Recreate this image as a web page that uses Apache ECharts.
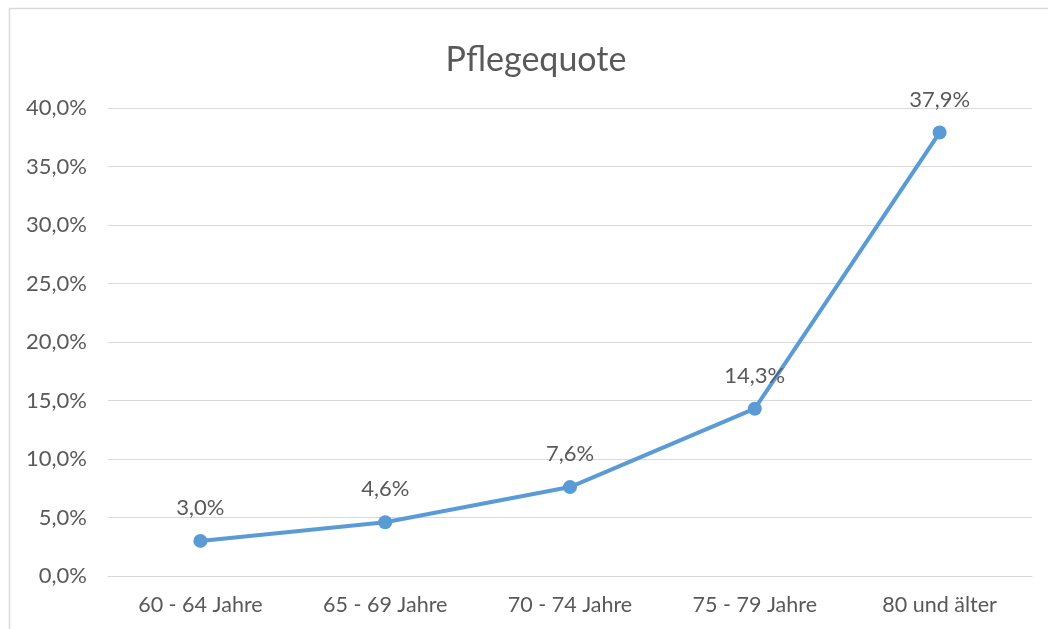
<!DOCTYPE html>
<html>
<head>
<meta charset="utf-8">
<script src="https://cdn.jsdelivr.net/npm/echarts@6/dist/echarts.min.js"></script>
<style>
  html, body { margin: 0; padding: 0; background: #fff; }
  #chart { width: 1048px; height: 629px; }
</style>
</head>
<body>
<div id="chart"></div>
<script>
const categories = ['60 - 64 Jahre', '65 - 69 Jahre', '70 - 74 Jahre', '75 - 79 Jahre', '80 und älter'];
const pflegequote = [3.0, 4.6, 7.6, 14.3, 37.9];

const fontFamily = 'Lato, "Open Sans", sans-serif';
const textColor = '#595959';

function pct(v) {
    return v.toFixed(1).replace('.', ',') + '%';
}

const option = {
    animation: false,
    title: {
        text: 'Pflegequote',
        left: 531,
        top: 38,
        textAlign: 'center',
        textStyle: {
            color: textColor,
            fontFamily: fontFamily,
            fontSize: 34,
            fontWeight: 'normal'
        }
    },
    graphic: [{
        type: 'rect',
        shape: { x: 9.5, y: 8.5, width: 1200, height: 800 },
        style: { fill: 'none', stroke: '#d9d9d9', lineWidth: 1.5 },
        silent: true
    }],
    grid: {
        left: 108,
        right: 16,
        top: 108,
        bottom: 53
    },
    xAxis: {
        type: 'category',
        data: categories,
        boundaryGap: true,
        axisLine: { lineStyle: { color: '#d9d9d9' } },
        axisTick: { show: false },
        axisLabel: {
            color: textColor,
            fontFamily: fontFamily,
            fontSize: 21.5,
            margin: 18
        }
    },
    yAxis: {
        type: 'value',
        min: 0,
        max: 40,
        interval: 5,
        axisLine: { show: false },
        axisTick: { show: false },
        splitLine: { lineStyle: { color: '#d9d9d9', width: 1 } },
        axisLabel: {
            color: textColor,
            fontFamily: fontFamily,
            fontSize: 22,
            margin: 21,
            formatter: pct
        }
    },
    series: [{
        type: 'line',
        data: pflegequote,
        smooth: false,
        symbol: 'circle',
        symbolSize: 14,
        lineStyle: { color: '#5b9bd5', width: 4 },
        itemStyle: { color: '#5b9bd5' },
        label: {
            show: true,
            position: 'top',
            distance: 15,
            color: textColor,
            fontFamily: fontFamily,
            fontSize: 22,
            formatter: p => pct(p.value)
        }
    }]
};

const myChart = echarts.init(document.getElementById('chart'));
myChart.setOption(option);
window.addEventListener('resize', myChart.resize);
</script>
</body>
</html>
